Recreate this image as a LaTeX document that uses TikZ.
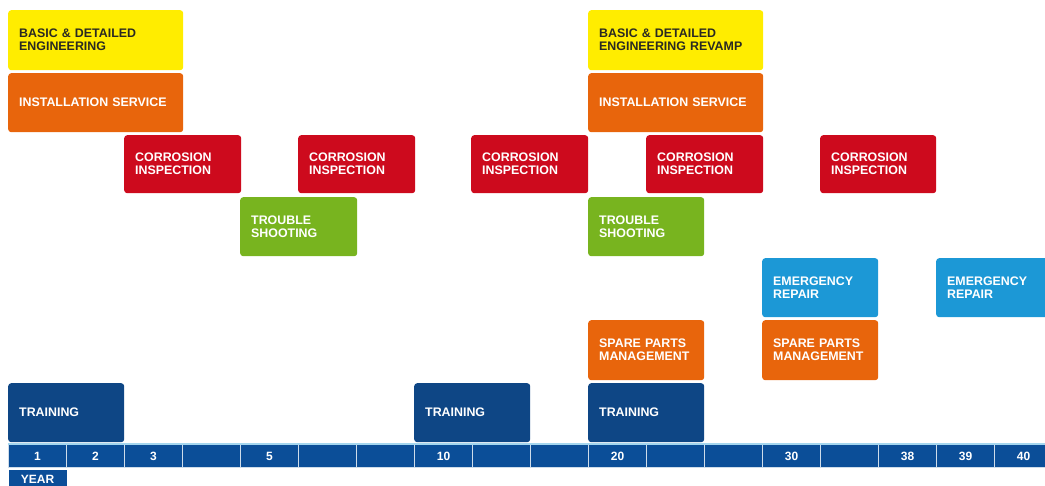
\documentclass[tikz,border=0pt]{standalone}
\usepackage{fontspec}
\setmainfont{Liberation Sans}
\definecolor{yellowc}{HTML}{FFED00}
\definecolor{orangec}{HTML}{E8650C}
\definecolor{redc}{HTML}{CD0A1D}
\definecolor{greenc}{HTML}{78B41F}
\definecolor{lbluec}{HTML}{1C98D6}
\definecolor{navyc}{HTML}{0E4685}
\definecolor{barc}{HTML}{0B4E98}
\definecolor{darktext}{HTML}{2A2A22}
\tikzset{
  box/.style={anchor=north west, rounded corners=3pt, inner xsep=11pt, inner ysep=0pt,
    font=\bfseries\fontsize{12.4}{13}\selectfont, align=left, text=white, fill=#1},
  yel/.style={box=yellowc, text=darktext},
  ora/.style={box=orangec},
  red/.style={box=redc},
  gre/.style={box=greenc},
  lbl/.style={box=lbluec},
  nav/.style={box=navyc},
  cell/.style={anchor=north west, fill=barc, draw=white!80!barc, line width=1pt,
    minimum width=58pt, minimum height=23pt, inner sep=0pt, text=white,
    font=\bfseries\fontsize{12}{12}\selectfont}
}
\newcommand\tbox[7]{\node[#6, text width=\dimexpr #4pt-22pt\relax, minimum height=#5pt] (#1) at (#2,#3) {#7};}
\begin{document}
\begin{tikzpicture}[x=1pt,y=-1pt]
\useasboundingbox (0,0) rectangle (1045,486);
\begin{scope}
\clip (0,0) rectangle (1045,486);
% top rows
\tbox{y1}{8}{10}{175}{60}{yel}{BASIC \& DETAILED\\ENGINEERING}
\tbox{i1}{8}{73}{175}{59}{ora}{INSTALLATION SERVICE}
\tbox{y2}{588}{10}{175}{60}{yel}{BASIC \& DETAILED\\ENGINEERING REVAMP}
\tbox{i2}{588}{73}{175}{59}{ora}{INSTALLATION SERVICE}
% corrosion
\tbox{r1}{124}{135}{117}{58}{red}{CORROSION\\INSPECTION}
\tbox{r2}{298}{135}{117}{58}{red}{CORROSION\\INSPECTION}
\tbox{r3}{471}{135}{117}{58}{red}{CORROSION\\INSPECTION}
\tbox{r4}{646}{135}{117}{58}{red}{CORROSION\\INSPECTION}
\tbox{r5}{820}{135}{116}{58}{red}{CORROSION\\INSPECTION}
% trouble shooting
\tbox{t1}{240}{197}{117}{59}{gre}{TROUBLE\\SHOOTING}
\tbox{t2}{588}{197}{116}{59}{gre}{TROUBLE\\SHOOTING}
% emergency
\tbox{e1}{762}{258}{116}{59}{lbl}{EMERGENCY\\REPAIR}
\tbox{e2}{936}{258}{120}{59}{lbl}{EMERGENCY\\REPAIR}
% spare parts
\tbox{s1}{588}{320}{116}{60}{ora}{SPARE PARTS\\MANAGEMENT}
\tbox{s2}{762}{320}{116}{60}{ora}{SPARE PARTS\\MANAGEMENT}
% training
\tbox{tr1}{8}{383}{116}{59}{nav}{TRAINING}
\tbox{tr2}{414}{383}{116}{59}{nav}{TRAINING}
\tbox{tr3}{588}{383}{116}{59}{nav}{TRAINING}
% year bar
\foreach \lab [count=\i from 0] in {1,2,3,{},5,{},{},10,{},{},20,{},{},30,{},38,39,40}{
  \node[cell] (c\i) at (8+58*\i,444) {\lab};
}
\draw[white!60!lbluec, line width=1.2pt] (c0.north west) -- (1045,444);
\node[cell, minimum height=20pt, draw=none] (year) at (8,469) {YEAR};
\end{scope}
\end{tikzpicture}
\end{document}
